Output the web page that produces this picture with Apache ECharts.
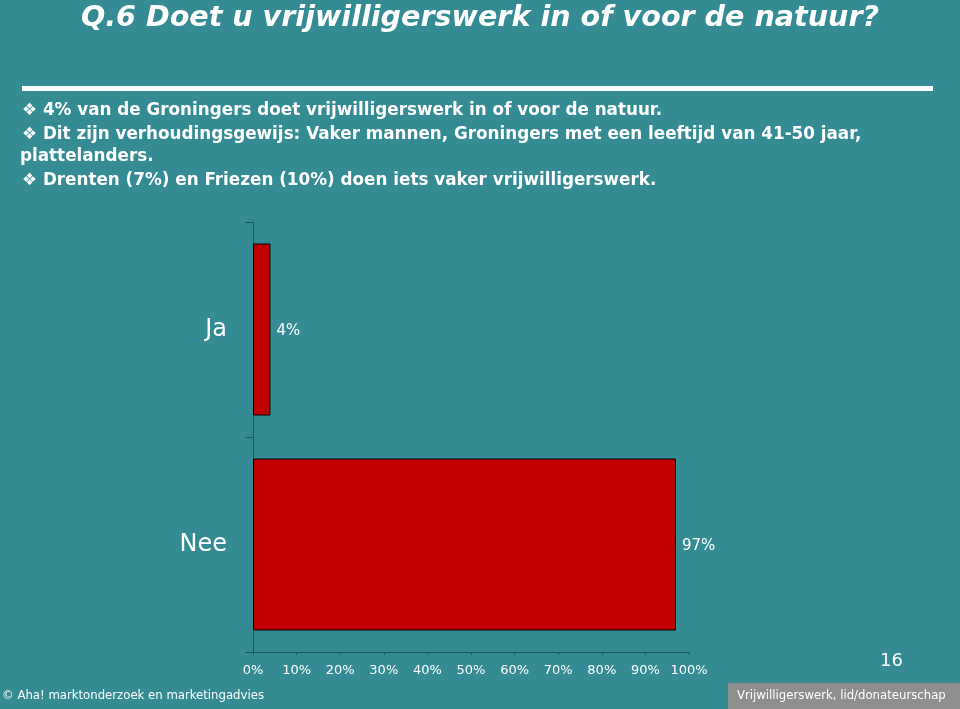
<!DOCTYPE html>
<html>
<head>
<meta charset="utf-8">
<script src="https://cdn.jsdelivr.net/npm/echarts@6/dist/echarts.min.js"></script>
<style>
  html, body { margin: 0; padding: 0; background: #348b94; }
  #chart { width: 960px; height: 709px; }
</style>
</head>
<body>
<div id="chart"></div>
<script>
// answers and share of respondents (%)
const categories = ['Ja', 'Nee']
const values = [4, 97]
const xTicks = [0, 10, 20, 30, 40, 50, 60, 70, 80, 90, 100]

const bullets = [
  '4% van de Groningers doet vrijwilligerswerk in of voor de natuur.',
  'Dit zijn verhoudingsgewijs: Vaker mannen, Groningers met een leeftijd van 41-50 jaar,',
  'Drenten (7%) en Friezen (10%) doen iets vaker vrijwilligerswerk.'
]

const bg = '#348b94'
const axisColor = '#1d5a61'
const txtFont = 'DejaVu Sans'

let chart = echarts.init(document.getElementById('chart'), null, { renderer: 'canvas' })

chart.setOption({
  backgroundColor: bg,
  animation: false,
  title: {
    text: 'Q.6 Doet u vrijwilligerswerk in of voor de natuur?',
    left: 'center',
    top: -1,
    textStyle: {
      color: '#fff',
      fontFamily: txtFont,
      fontWeight: 'bold',
      fontStyle: 'italic',
      fontSize: 28.6
    }
  },
  grid: { left: 253, right: 271, top: 222, bottom: 57 },
  xAxis: {
    type: 'value',
    min: xTicks[0],
    max: xTicks[xTicks.length - 1],
    interval: 10,
    axisLine: { show: true, lineStyle: { color: axisColor, width: 1 } },
    axisTick: { show: true, length: 3, lineStyle: { color: axisColor } },
    splitLine: { show: false },
    axisLabel: {
      color: '#fff',
      fontFamily: txtFont,
      fontSize: 13,
      margin: 12,
      formatter: '{value}%'
    }
  },
  yAxis: {
    type: 'category',
    data: categories,
    inverse: true,
    axisLine: { show: true, lineStyle: { color: axisColor, width: 1 } },
    axisTick: { show: true, length: 8, lineStyle: { color: axisColor } },
    axisLabel: {
      color: '#fff',
      fontFamily: txtFont,
      fontSize: 24,
      margin: 26
    }
  },
  series: [
    {
      type: 'bar',
      data: values,
      barCategoryGap: '20%',
      itemStyle: { color: '#c00000', borderColor: '#000', borderWidth: 1 },
      label: {
        show: true,
        position: 'right',
        distance: 6,
        offset: [0, 2],
        color: '#fff',
        fontFamily: txtFont,
        fontSize: 15,
        formatter: '{c}%'
      }
    }
  ],
  graphic: [
    // white rule under the title
    { type: 'rect', shape: { x: 22, y: 86, width: 911, height: 5 }, style: { fill: '#fff' } },
    {
      type: 'text', left: 22, top: 102,
      style: { text: '\u2756 ' + bullets[0], fill: '#fff', fontFamily: txtFont, fontWeight: 'bold', fontSize: 16.8 }
    },
    {
      type: 'text', left: 22, top: 126,
      style: { text: '\u2756 ' + bullets[1], fill: '#fff', fontFamily: txtFont, fontWeight: 'bold', fontSize: 16.8 }
    },
    {
      type: 'text', left: 20, top: 148,
      style: { text: 'plattelanders.', fill: '#fff', fontFamily: txtFont, fontWeight: 'bold', fontSize: 16.8 }
    },
    {
      type: 'text', left: 22, top: 172,
      style: { text: '\u2756 ' + bullets[2], fill: '#fff', fontFamily: txtFont, fontWeight: 'bold', fontSize: 16.8 }
    },
    // page number
    {
      type: 'text', left: 880, top: 652,
      style: { text: '16', fill: '#fff', fontFamily: txtFont, fontSize: 18 }
    },
    // footer
    {
      type: 'text', left: 2, top: 689,
      style: { text: '\u00a9 Aha! marktonderzoek en marketingadvies', fill: '#fff', fontFamily: 'DejaVu Sans Condensed', fontSize: 13 }
    },
    { type: 'rect', shape: { x: 728, y: 683, width: 232, height: 26 }, style: { fill: '#8e8e8e' } },
    {
      type: 'text', left: 737, top: 689,
      style: { text: 'Vrijwilligerswerk, lid/donateurschap', fill: '#fff', fontFamily: 'DejaVu Sans Condensed', fontSize: 13 }
    }
  ]
})
</script>
</body>
</html>
